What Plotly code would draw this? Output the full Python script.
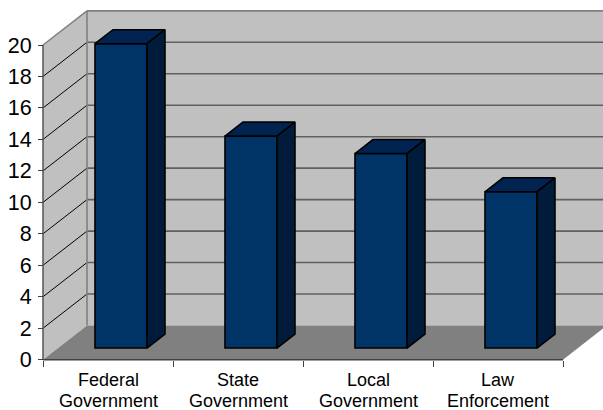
import plotly.graph_objects as go

categories = [["Federal", "Government"], ["State", "Government"], ["Local", "Government"], ["Law", "Enforcement"]]
values = [19.34, 13.47, 12.36, 9.93]
y_ticks = [0, 2, 4, 6, 8, 10, 12, 14, 16, 18, 20]

W, H = 603, 410
X0, CAT_W = 43, 130          # pixel frame of the front plane
Y0, UNIT = 359.7, 15.735
XR = [-X0 / CAT_W, (W - X0) / CAT_W]
YR = [-(H - Y0) / UNIT, Y0 / UNIT]
n = len(categories)
dx, dy = 44 / CAT_W, 34.2 / UNIT      # wall depth in data units
bar_w = 0.4
front_dx = 0.295 * dx                 # depth of bar front face
bar_dx, bar_dy = 18 / CAT_W, 14 / UNIT
bar_base = 0.74
top_v = y_ticks[-1]

WALL, FLOOR, EDGE, GRID = "#C0C0C0", "#808080", "#808080", "#606060"
FRONT, TOP, SIDE = "#003366", "#002352", "#001C3A"


def poly(pts, fill, line=None, lw=0):
    path = "M" + " L".join(f"{x},{y}" for x, y in pts) + " Z"
    return dict(type="path", path=path, xref="x", yref="y", fillcolor=fill,
                line=dict(color=line or fill, width=lw), layer="below")


def seg(x0, y0, x1, y1, color, w):
    return dict(type="line", x0=x0, y0=y0, x1=x1, y1=y1, xref="x", yref="y",
                line=dict(color=color, width=w), layer="below")


shapes = [
    poly([(0, 0), (dx, dy), (dx, top_v + dy), (0, top_v)], WALL),
    poly([(dx, dy), (n + dx, dy), (n + dx, top_v + dy), (dx, top_v + dy)], WALL),
    poly([(0, 0), (n, 0), (n + dx, dy), (dx, dy)], FLOOR),
]
for t in y_ticks[1:-1]:
    shapes.append(seg(0, t, dx, t + dy, "#000000", 1))
    shapes.append(seg(dx, t + dy, n + dx, t + dy, GRID, 1.6))
shapes += [
    seg(0, top_v, dx, top_v + dy, EDGE, 1.5),
    seg(dx, top_v + dy, n + dx, top_v + dy, EDGE, 1.8),
    seg(dx, dy, dx, top_v + dy, EDGE, 1.6),
    seg(0, 0, 0, top_v, "#555555", 1.5),
    seg(0, 0, n, 0, "#404040", 1.6),
]

fig = go.Figure()
centers = [i + 0.5 + front_dx for i in range(n)]
fig.add_trace(go.Bar(x=centers, y=values, base=[bar_base] * n, width=bar_w,
                     marker=dict(color=FRONT, line=dict(color="#000000", width=1.6)),
                     hoverinfo="skip"))
for c, v in zip(centers, values):
    l, r = c - bar_w / 2, c + bar_w / 2
    top = bar_base + v
    fig.add_trace(go.Scatter(x=[l, r, r + bar_dx, l + bar_dx, l],
                             y=[top, top, top + bar_dy, top + bar_dy, top],
                             mode="lines", fill="toself", fillcolor=TOP,
                             line=dict(color="#000000", width=1.6), hoverinfo="skip"))
    fig.add_trace(go.Scatter(x=[r, r + bar_dx, r + bar_dx, r, r],
                             y=[bar_base, bar_base + bar_dy, top + bar_dy, top, bar_base],
                             mode="lines", fill="toself", fillcolor=SIDE,
                             line=dict(color="#000000", width=1.6), hoverinfo="skip"))

annotations = []
for i, (a, b) in enumerate(categories):
    for txt, py in ((a, 380), (b, 401)):
        annotations.append(dict(x=i + 0.5, y=(Y0 - py) / UNIT, xref="x", yref="y", text=txt,
                                showarrow=False, xanchor="center", yanchor="middle",
                                font=dict(family="Liberation Sans", size=18, color="#000000")))

fig.update_layout(
    width=W, height=H, margin=dict(l=0, r=0, t=0, b=0), showlegend=False, barmode="overlay",
    paper_bgcolor="#FFFFFF", plot_bgcolor="#FFFFFF", shapes=shapes, annotations=annotations,
    xaxis=dict(range=XR, domain=[0, 1], anchor="free", position=(H - Y0) / H, showgrid=False,
               zeroline=False, showline=False, tickmode="array", tickvals=list(range(n + 1)),
               ticks="outside", ticklen=6, tickwidth=1.3, tickcolor="#404040", showticklabels=False),
    yaxis=dict(range=YR, domain=[0, 1], anchor="free", position=X0 / W, showgrid=False,
               zeroline=False, showline=False, tickmode="array", tickvals=y_ticks,
               ticks="outside", ticklen=5, tickwidth=1.3, tickcolor="#404040", ticklabelstandoff=2,
               tickfont=dict(family="Liberation Sans", size=21.5, color="#000000")),
)
fig.write_html("out.html", config=dict(displayModeBar=False),
               post_script="document.body.style.margin='0';document.documentElement.style.overflow='hidden';")
